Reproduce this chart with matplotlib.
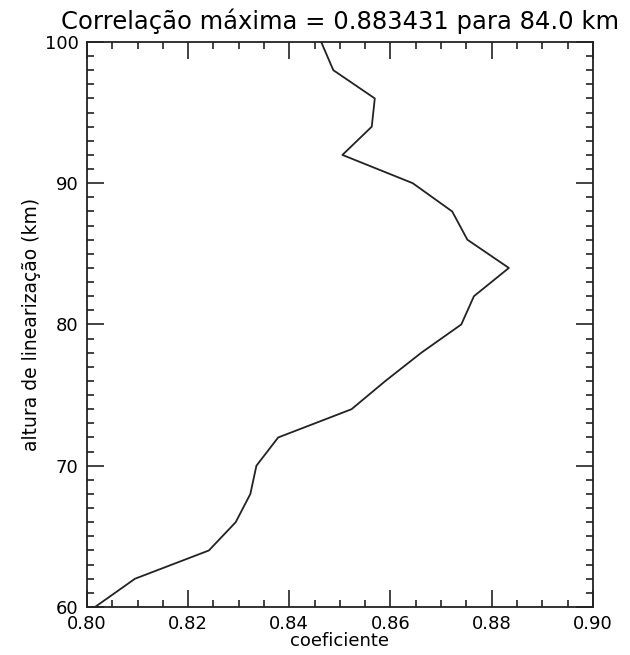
import matplotlib
matplotlib.use("Agg")
import matplotlib.pyplot as plt
from matplotlib.ticker import MultipleLocator

# altura de linearizacao (km) e coeficiente de correlacao
altura = [60, 62, 64, 66, 68, 70, 72, 74, 76, 78, 80,
          82, 84, 86, 88, 90, 92, 94, 96, 98, 100]
coeficiente = [0.8016, 0.8095, 0.8241, 0.8294, 0.8323, 0.8335, 0.8378,
               0.8523, 0.8590, 0.8661, 0.8740, 0.8765, 0.8834, 0.8752,
               0.8722, 0.8644, 0.8505, 0.8563, 0.8569, 0.8487, 0.8463]

titulo = "Correlação máxima = 0.883431 para 84.0 km"

fig = plt.figure(figsize=(6.3, 6.55), dpi=100)
ax = fig.add_axes([0.138, 0.0733, 0.803, 0.8627])

ax.plot(coeficiente, altura, color="#222222", linewidth=1.3)

ax.set_xlim(0.80, 0.90)
ax.set_ylim(60, 100)
ax.xaxis.set_major_locator(MultipleLocator(0.02))
ax.xaxis.set_minor_locator(MultipleLocator(0.005))
ax.yaxis.set_major_locator(MultipleLocator(10))
ax.yaxis.set_minor_locator(MultipleLocator(1))
ax.xaxis.set_major_formatter(plt.FormatStrFormatter("%.2f"))

ax.tick_params(which="both", direction="in", top=True, right=True,
               width=1.2, color="#222222")
ax.tick_params(which="major", length=12, labelsize=13, pad=6)
ax.tick_params(which="minor", length=5)
for s in ax.spines.values():
    s.set_linewidth(1.3)
    s.set_color("#222222")

ax.set_xlabel("coeficiente", fontsize=13, labelpad=-1)
ax.set_ylabel("altura de linearização (km)", fontsize=13.5, labelpad=3)
ax.set_title(titulo, fontsize=17.5, pad=9)

fig.savefig("out.png", dpi=100)
